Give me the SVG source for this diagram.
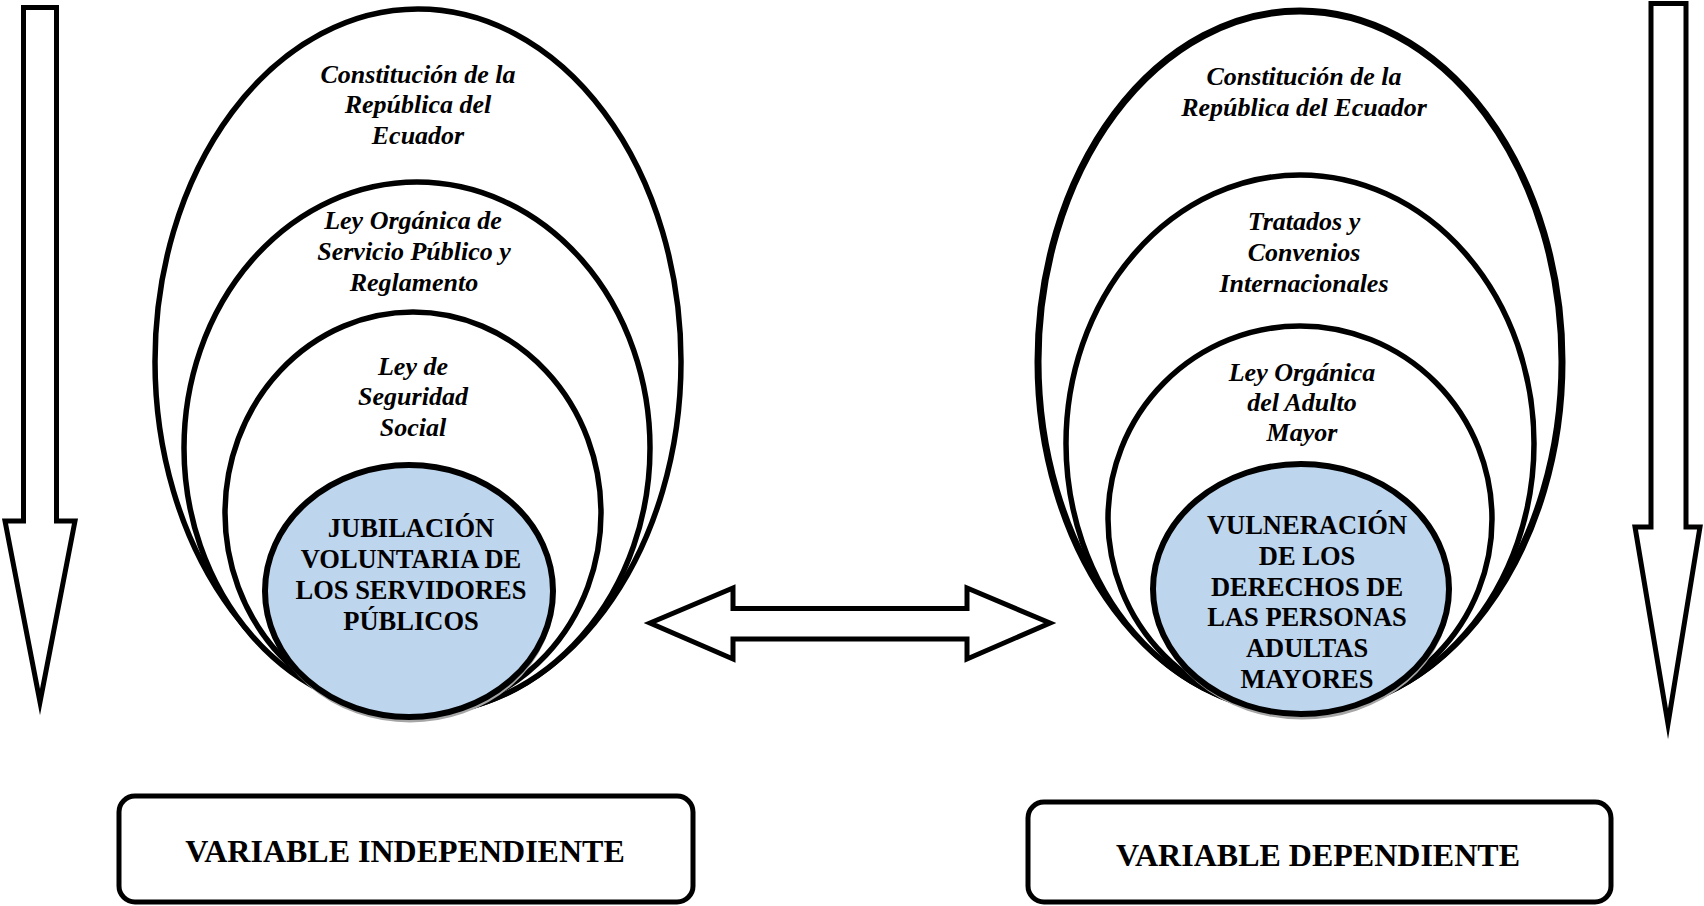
<svg xmlns="http://www.w3.org/2000/svg" width="1704" height="906" viewBox="0 0 1704 906">
<style>
.ring{fill:#fff;stroke:#000;stroke-width:5.5}
.core{fill:#bdd5ed;stroke:#000;stroke-width:6}
.shadow{fill:none;stroke:#a6a6a6;stroke-width:5}
.arrow{fill:#fff;stroke:#000;stroke-width:5;stroke-linejoin:miter;stroke-miterlimit:10}
.box{fill:#fff;stroke:#000;stroke-width:5}
.it{font-family:"Liberation Serif","Times New Roman",serif;font-style:italic;font-weight:bold;font-size:26px;text-anchor:middle;fill:#000}
.bd{font-family:"Liberation Serif","Times New Roman",serif;font-weight:bold;font-size:26.5px;text-anchor:middle;fill:#000}
.lbl{font-family:"Liberation Serif","Times New Roman",serif;font-weight:bold;font-size:32px;text-anchor:middle;fill:#000}
</style>
<rect width="1704" height="906" fill="#fff"/>
<g id="connectors">
<path id="arrow-left" class="arrow" d="M23.5,7.5 L56.5,7.5 L56.5,521 L75,521 L40,702 L5,521 L23.5,521 Z"/>
<path id="arrow-right" class="arrow" d="M1651,3.5 L1686,3.5 L1686,527 L1700,527 L1668,724 L1635,527 L1651,527 Z"/>
<path id="arrow-double" class="arrow" d="M650,623 L733,588 L733,608.5 L967,608.5 L967,588 L1050,623 L967,659 L967,639 L733,639 L733,659 Z"/>
</g>
<g id="node-left-constitucion">
<ellipse class="ring" cx="418" cy="361.5" rx="263" ry="352.5"/>
<text class="it" x="418" y="83">Constitución de la</text>
<text class="it" x="418" y="113">República del</text>
<text class="it" x="418" y="144">Ecuador</text>
</g>
<g id="node-left-losep">
<ellipse class="ring" cx="417" cy="448" rx="233" ry="266"/>
<text class="it" x="413" y="229">Ley Orgánica de</text>
<text class="it" x="414" y="260">Servicio Público y</text>
<text class="it" x="414" y="291">Reglamento</text>
</g>
<g id="node-left-seguridad">
<ellipse class="ring" cx="413" cy="513" rx="188" ry="201"/>
<text class="it" x="413" y="375">Ley de</text>
<text class="it" x="413" y="405">Seguridad</text>
<text class="it" x="413" y="436">Social</text>
</g>
<g id="node-left-jubilacion">
<ellipse class="shadow" cx="410" cy="595" rx="142" ry="125"/>
<ellipse class="core" cx="409" cy="591" rx="144" ry="126"/>
<text class="bd" x="411" y="537">JUBILACIÓN</text>
<text class="bd" x="411" y="568">VOLUNTARIA DE</text>
<text class="bd" x="411" y="599">LOS SERVIDORES</text>
<text class="bd" x="411" y="630">PÚBLICOS</text>
</g>
<g id="node-right-constitucion">
<ellipse class="ring" cx="1300" cy="361.5" rx="262" ry="350.5" style="stroke-width:7"/>
<text class="it" x="1304" y="85">Constitución de la</text>
<text class="it" x="1304" y="116">República del Ecuador</text>
</g>
<g id="node-right-tratados">
<ellipse class="ring" cx="1300" cy="443.5" rx="234" ry="268.5"/>
<text class="it" x="1304" y="230">Tratados y</text>
<text class="it" x="1304" y="261">Convenios</text>
<text class="it" x="1304" y="292">Internacionales</text>
</g>
<g id="node-right-adulto">
<ellipse class="ring" cx="1300" cy="519" rx="192" ry="193"/>
<text class="it" x="1302" y="381">Ley Orgánica</text>
<text class="it" x="1302" y="411">del Adulto</text>
<text class="it" x="1302" y="441">Mayor</text>
</g>
<g id="node-right-vulneracion">
<ellipse class="shadow" cx="1302" cy="593" rx="146" ry="124"/>
<ellipse class="core" cx="1301" cy="589" rx="148" ry="125"/>
<text class="bd" x="1307" y="534">VULNERACIÓN</text>
<text class="bd" x="1307" y="565">DE LOS</text>
<text class="bd" x="1307" y="596">DERECHOS DE</text>
<text class="bd" x="1307" y="626">LAS PERSONAS</text>
<text class="bd" x="1307" y="657">ADULTAS</text>
<text class="bd" x="1307" y="688">MAYORES</text>
</g>
<g id="node-var-independiente">
<rect class="box" x="119" y="796" width="574" height="106" rx="16"/>
<text class="lbl" x="405" y="862">VARIABLE INDEPENDIENTE</text>
</g>
<g id="node-var-dependiente">
<rect class="box" x="1028" y="802" width="583" height="100" rx="16"/>
<text class="lbl" x="1318" y="866">VARIABLE DEPENDIENTE</text>
</g>
</svg>
